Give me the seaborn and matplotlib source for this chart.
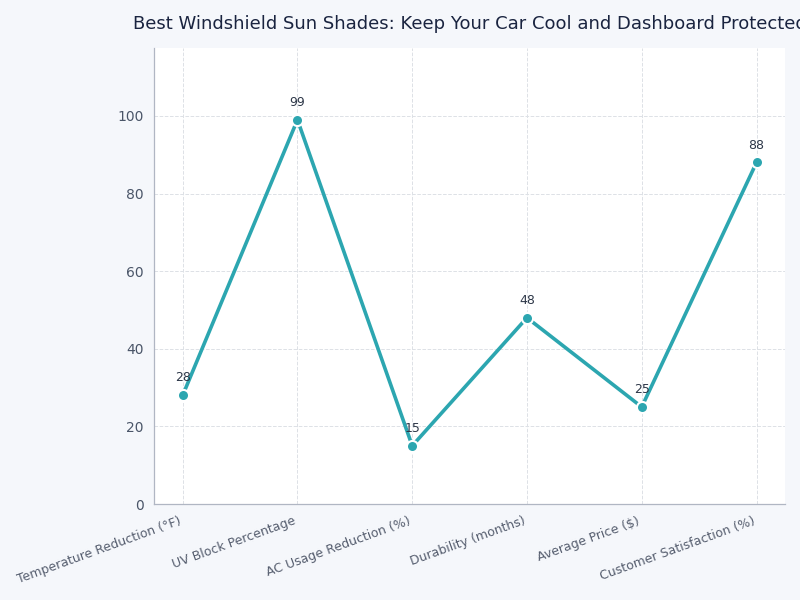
import pandas as pd
import matplotlib
matplotlib.use('Agg')
import matplotlib.pyplot as plt
import seaborn as sns

# values
metrics = [
    'Temperature Reduction (°F)',
    'UV Block Percentage',
    'AC Usage Reduction (%)',
    'Durability (months)',
    'Average Price ($)',
    'Customer Satisfaction (%)',
]
values = [28, 99, 15, 48, 25, 88]

df = pd.DataFrame({'metric': metrics, 'value': values})

sns.set_style('whitegrid')
plt.rcParams['font.family'] = ['DejaVu Sans']

line_color = '#2ca6b0'

fig = plt.figure(figsize=(8, 6), dpi=100, facecolor='#f5f7fb')
ax = fig.add_axes([0.1925, 0.16, 0.789, 0.76])
ax.set_facecolor('white')

sns.lineplot(
    data=df, x='metric', y='value', ax=ax,
    color=line_color, linewidth=2.6, marker='o', markersize=8,
    markeredgecolor='white', markeredgewidth=1.5, sort=False
)

# labels above points
for i, v in enumerate(values):
    ax.annotate(str(v), (i, v), textcoords='offset points', xytext=(0, 10),
                ha='center', fontsize=9, color='#2d3748')

ax.set_xlim(-0.25, 5.25)
ax.set_ylim(0, 117.5)
ax.set_xlabel('')
ax.set_ylabel('')
ax.set_title('Best Windshield Sun Shades: Keep Your Car Cool and Dashboard Protected',
             fontsize=13, color='#1a2440', pad=14)

ax.grid(True, linestyle='--', color='#dde1e6', linewidth=0.7)
for s in ['top', 'right']:
    ax.spines[s].set_visible(False)
for s in ['left', 'bottom']:
    ax.spines[s].set_color('#b0b6c3')
    ax.spines[s].set_linewidth(0.9)

ax.tick_params(axis='both', colors='#4a5568', labelsize=10, length=4, width=0.8)
ax.tick_params(axis='x', labelsize=9, labelcolor='#555d6e')
plt.setp(ax.get_xticklabels(), rotation=20, ha='right')

plt.savefig('out.png', dpi=100, facecolor=fig.get_facecolor())
